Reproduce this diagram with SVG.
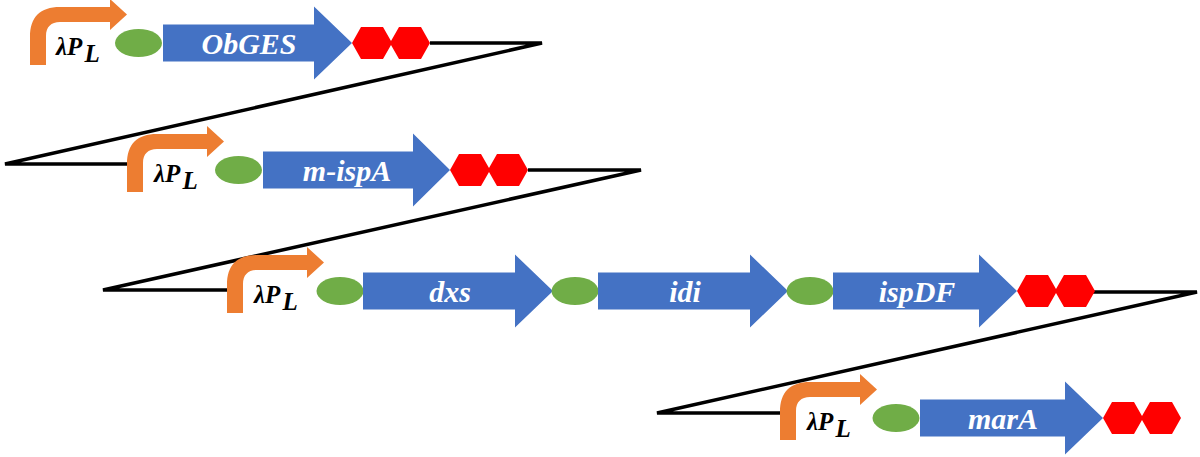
<svg xmlns="http://www.w3.org/2000/svg" xmlns:xlink="http://www.w3.org/1999/xlink" width="1200" height="457" viewBox="0 0 1200 457">
<style>
.prom{fill:#ED7D31}
.rbs{fill:#70AD47}
.gene{fill:#4472C4}
.term{fill:#FF0000}
.wire{fill:none;stroke:#000;stroke-width:3.5}
.plab{font-family:'Liberation Serif','Times New Roman',serif;font-weight:bold;font-style:italic;font-size:25px;fill:#000}
.glab{font-family:'Liberation Serif','Times New Roman',serif;font-weight:bold;font-style:italic;font-size:30px;fill:#fff;text-anchor:middle}
</style>
<defs>
<path id="promShape" d="M0,22 V-6 C0,-26 10,-36 30,-36 H80 V-44 L97,-28.5 L80,-13 V-21 H30 C21,-21 16,-16 16,-7 V22 Z"/>
<path id="hexPair" d="M0,0 L9,-16 L31,-16 L39,-2 L47,-16 L69,-16 L78,0 L69,16 L47,16 L39,2 L31,16 L9,16 Z"/>
</defs>
<rect width="1200" height="457" fill="#fff"/>
<g id="connectors">
<polyline class="wire" points="430,43 542,43 5,164 128,164"/>
<polyline class="wire" points="528,170 641,170 103,290 228,290"/>
<polyline class="wire" points="1093,292 1197,292 657,413 781,413"/>
</g>
<g id="row1">
<g id="promoter1"><use xlink:href="#promShape" class="prom" transform="translate(30,43)"/><text class="plab" x="56" y="55">λP<tspan dx="2" dy="7">L</tspan></text></g>
<g id="rbs1"><ellipse class="rbs" cx="138.5" cy="43" rx="23.5" ry="14"/></g>
<g id="gene-ObGES"><path class="gene" d="M163,24.5 H314 V6.5 L352,43 L314,79.5 V61.5 H163 Z"/><text class="glab" x="249" y="54">ObGES</text></g>
<g id="term1"><use xlink:href="#hexPair" class="term" transform="translate(352,43)"/></g>
</g>
<g id="row2">
<g id="promoter2"><use xlink:href="#promShape" class="prom" transform="translate(127,170)"/><text class="plab" x="154" y="182">λP<tspan dx="2" dy="7">L</tspan></text></g>
<g id="rbs2"><ellipse class="rbs" cx="238.5" cy="170" rx="23.5" ry="14"/></g>
<g id="gene-m-ispA"><path class="gene" d="M263,151.5 H413 V133.5 L450,170 L413,206.5 V188.5 H263 Z"/><text class="glab" x="347" y="181">m-ispA</text></g>
<g id="term2"><use xlink:href="#hexPair" class="term" transform="translate(450,170)"/></g>
</g>
<g id="row3">
<g id="promoter3"><use xlink:href="#promShape" class="prom" transform="translate(227,291)"/><text class="plab" x="254" y="303">λP<tspan dx="2" dy="7">L</tspan></text></g>
<g id="rbs3a"><ellipse class="rbs" cx="340" cy="291" rx="23.5" ry="14"/></g>
<g id="gene-dxs"><path class="gene" d="M363,272.5 H515 V254.5 L553,291 L515,327.5 V309.5 H363 Z"/><text class="glab" x="450" y="302">dxs</text></g>
<g id="rbs3b"><ellipse class="rbs" cx="575" cy="291" rx="23.5" ry="14"/></g>
<g id="gene-idi"><path class="gene" d="M598,272.5 H750 V254.5 L788,291 L750,327.5 V309.5 H598 Z"/><text class="glab" x="685" y="302">idi</text></g>
<g id="rbs3c"><ellipse class="rbs" cx="810" cy="291" rx="23.5" ry="14"/></g>
<g id="gene-ispDF"><path class="gene" d="M833,272.5 H979 V254.5 L1017,291 L979,327.5 V309.5 H833 Z"/><text class="glab" x="917" y="302">ispDF</text></g>
<g id="term3"><use xlink:href="#hexPair" class="term" transform="translate(1017,291)"/></g>
</g>
<g id="row4">
<g id="promoter4"><use xlink:href="#promShape" class="prom" transform="translate(780,418)"/><text class="plab" x="807" y="430">λP<tspan dx="2" dy="7">L</tspan></text></g>
<g id="rbs4"><ellipse class="rbs" cx="896" cy="418" rx="23.5" ry="14"/></g>
<g id="gene-marA"><path class="gene" d="M920,399.5 H1065 V381.5 L1103,418 L1065,454.5 V436.5 H920 Z"/><text class="glab" x="1003" y="429">marA</text></g>
<g id="term4"><use xlink:href="#hexPair" class="term" transform="translate(1103,418)"/></g>
</g>
</svg>
